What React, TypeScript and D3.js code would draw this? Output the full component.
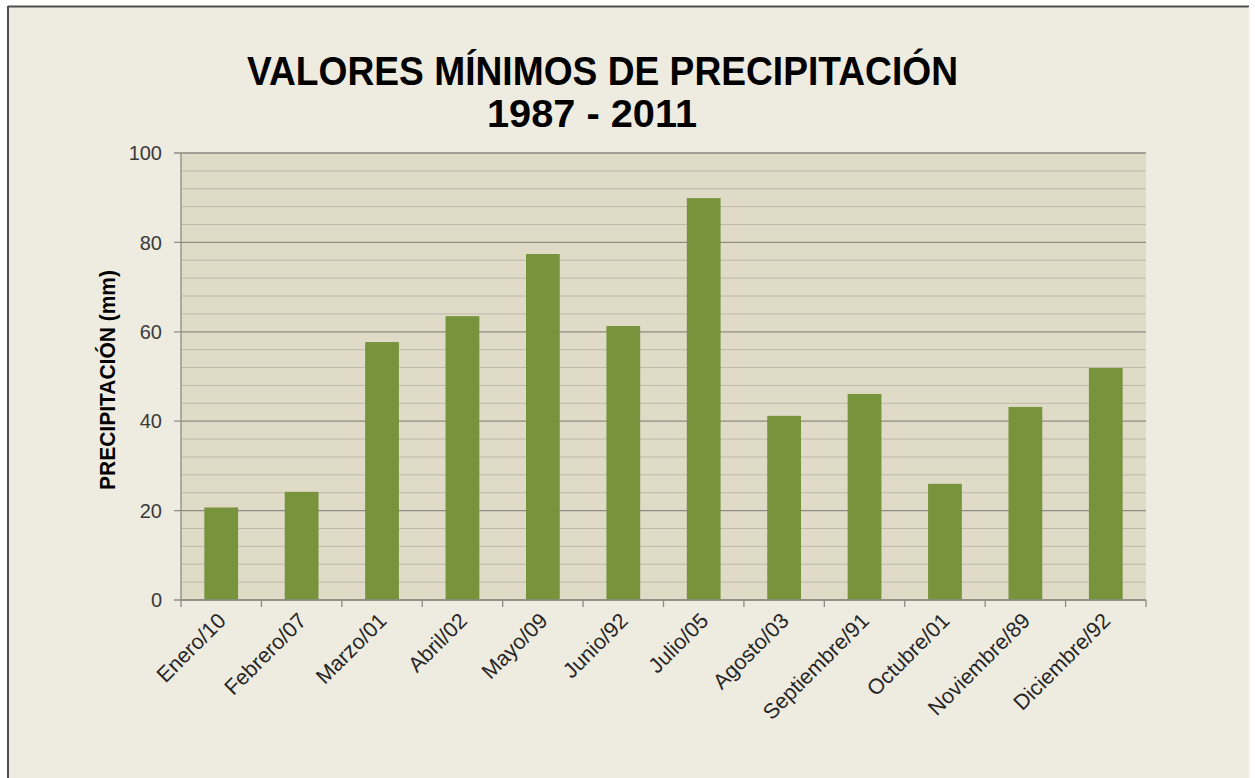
import React from 'react';
import * as d3 from 'd3';

// Datos
const categories = [
  'Enero/10',
  'Febrero/07',
  'Marzo/01',
  'Abril/02',
  'Mayo/09',
  'Junio/92',
  'Julio/05',
  'Agosto/03',
  'Septiembre/91',
  'Octubre/01',
  'Noviembre/89',
  'Diciembre/92',
];
const values = [20.7, 24.2, 57.7, 63.5, 77.4, 61.3, 89.9, 41.2, 46.1, 26.0, 43.2, 51.9];
const yTicks = [0, 20, 40, 60, 80, 100];
const minorTicks = d3.range(0, 101, 4);

const W = 1255;
const H = 778;
const plot = { left: 181, right: 1146, top: 153, bottom: 600 };
const font = '"Liberation Sans", Arial, sans-serif';

const App: React.FC = () => {
  const x = d3
    .scaleBand<string>()
    .domain(categories)
    .range([plot.left, plot.right])
    .paddingInner(0.58)
    .paddingOuter(0.29);

  const y = d3.scaleLinear().domain([0, 100]).range([plot.bottom, plot.top]);

  const step = (plot.right - plot.left) / categories.length;
  const boundaries = d3.range(categories.length + 1).map((i) => plot.left + i * step);

  return (
    <svg
      width={W}
      height={H}
      style={{ position: 'absolute', left: 0, top: 0, display: 'block', background: '#fff' }}
    >
      {/* marco exterior */}
      <rect x={8} y={7} width={1241} height={H} fill="#EEEBE0" />
      <line x1={8} y1={6.5} x2={1249} y2={6.5} stroke="#4d4d4d" strokeWidth={2} />
      <line x1={8} y1={6} x2={8} y2={H} stroke="#4d4d4d" strokeWidth={2} />
      <line x1={1249.5} y1={7} x2={1249.5} y2={H} stroke="#f7f5ef" strokeWidth={2} />

      {/* título */}
      <text
        x={247}
        y={85}
        textLength={711}
        lengthAdjust="spacingAndGlyphs"
        fontFamily={font}
        fontWeight="bold"
        fontSize={40}
        fill="#000"
      >
        VALORES MÍNIMOS DE PRECIPITACIÓN
      </text>
      <text
        x={487}
        y={127}
        textLength={210}
        lengthAdjust="spacingAndGlyphs"
        fontFamily={font}
        fontWeight="bold"
        fontSize={38}
        fill="#000"
      >
        1987 - 2011
      </text>

      {/* área de trazado */}
      <rect
        x={plot.left}
        y={plot.top}
        width={plot.right - plot.left}
        height={plot.bottom - plot.top}
        fill="#E0DBC7"
      />

      {/* líneas de división secundarias */}
      {minorTicks
        .filter((t) => t % 20 !== 0)
        .map((t) => (
          <line
            key={'m' + t}
            x1={plot.left}
            x2={plot.right}
            y1={y(t)}
            y2={y(t)}
            stroke="#BDB9A9"
            strokeWidth={1}
          />
        ))}

      {/* líneas de división principales */}
      {yTicks.map((t) => (
        <line
          key={'g' + t}
          x1={plot.left - 7}
          x2={plot.right}
          y1={y(t)}
          y2={y(t)}
          stroke="#8C8B84"
          strokeWidth={1.3}
        />
      ))}

      {/* barras */}
      {categories.map((c, i) => (
        <rect
          key={c}
          x={x(c)!}
          y={y(values[i])}
          width={x.bandwidth()}
          height={plot.bottom - y(values[i])}
          fill="#77933C"
        />
      ))}

      {/* ejes */}
      <line x1={plot.left} x2={plot.left} y1={plot.top} y2={plot.bottom} stroke="#8C8B84" strokeWidth={1.3} />
      <line x1={plot.left} x2={plot.right} y1={plot.bottom} y2={plot.bottom} stroke="#8C8B84" strokeWidth={1.3} />
      {boundaries.map((bx, i) => (
        <line key={'t' + i} x1={bx} x2={bx} y1={plot.bottom} y2={plot.bottom + 7} stroke="#8C8B84" strokeWidth={1.3} />
      ))}

      {/* etiquetas eje Y */}
      {yTicks.map((t) => (
        <text
          key={'yl' + t}
          x={162}
          y={y(t)}
          dy="0.36em"
          textAnchor="end"
          fontFamily={font}
          fontSize={20}
          fill="#3a3a3a"
        >
          {t}
        </text>
      ))}

      {/* etiquetas eje X */}
      {categories.map((c) => {
        const cx = x(c)! + x.bandwidth() / 2 + 6;
        const cy = 622;
        return (
          <text
            key={'xl' + c}
            transform={`translate(${cx},${cy}) rotate(-45)`}
            textAnchor="end"
            fontFamily={font}
            fontSize={21.5}
            fill="#262626"
          >
            {c}
          </text>
        );
      })}

      {/* título eje Y */}
      <text
        transform={`translate(115,380) rotate(-90)`}
        textAnchor="middle"
        textLength={220}
        lengthAdjust="spacingAndGlyphs"
        fontFamily={font}
        fontWeight="bold"
        fontSize={21.5}
        fill="#000"
      >
        PRECIPITACIÓN (mm)
      </text>
    </svg>
  );
};

export default App;
